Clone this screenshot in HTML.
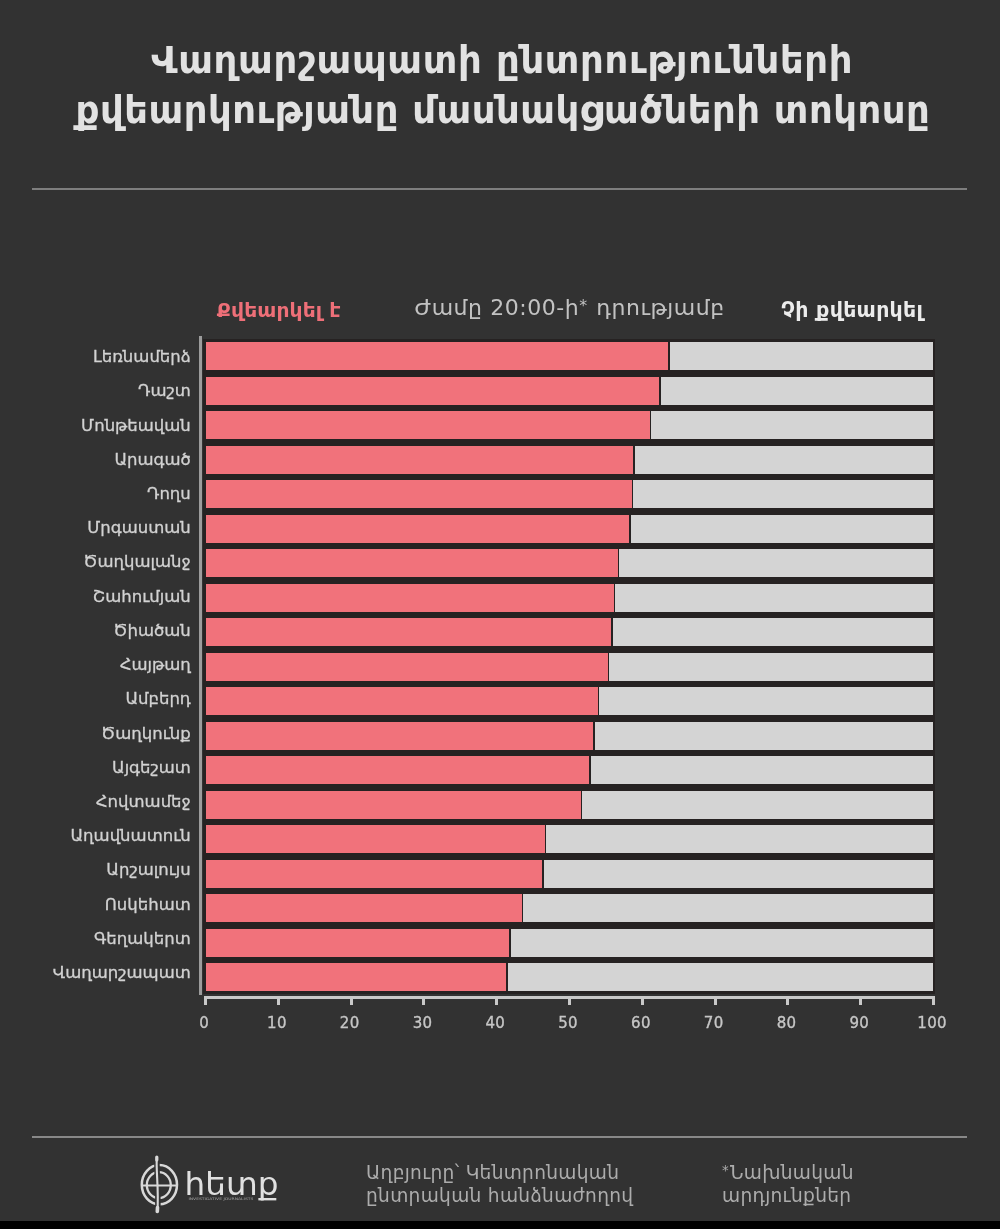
<!DOCTYPE html>
<html lang="hy"><head><meta charset="utf-8"><title>Վաղարշապատ</title>
<style>
html,body{margin:0;padding:0;background:#323232}
body{width:1000px;height:1229px;background:#323232;position:relative;overflow:hidden;font-family:"DejaVu Sans","Liberation Sans",sans-serif;color:#ddd}
.abs{position:absolute}
h1{margin:0}
h1 span{position:absolute;white-space:nowrap;font-weight:bold;font-size:37px;line-height:50px;color:#e2e2e2;letter-spacing:0px}
.hr{position:absolute;left:32px;width:935px;height:2px;background:#7e7e7e}
.lab{position:absolute;left:0;width:190.8px;text-align:right;font-size:16.5px;line-height:34px;color:#d2d2d2;white-space:nowrap;-webkit-text-stroke:0.3px #d2d2d2}
.bar{position:absolute;height:27.8px}
.g{background:#d4d4d4}
.p{background:#f1727b}
.chartbg{position:absolute;left:203px;top:339px;width:731.5px;height:655px;background:#262222}
.vax{position:absolute;left:198.8px;top:336px;width:3.6px;height:659px;background:#9c9c9c}
.hax{position:absolute;left:204px;top:996px;width:731px;height:3px;background:#c9c9c9}
.tick{position:absolute;top:996px;width:3px;height:9px;background:#c9c9c9}
.tl{position:absolute;top:1012px;width:60px;text-align:center;font-size:15px;letter-spacing:0.3px;line-height:22px;color:#c6c6c6;-webkit-text-stroke:0.35px #c6c6c6}
.hd{position:absolute;top:296px;line-height:28px;white-space:nowrap}
.ft{position:absolute;font-size:18.6px;line-height:23px;color:#acacac;white-space:nowrap;letter-spacing:0.3px}
.ast{font-size:72%;position:relative;top:-0.28em;margin-right:1px;display:inline-block;line-height:1}
.btm{position:absolute;left:-10px;top:1220.5px;width:1020px;height:20px;background:#000}
#wrap{position:absolute;left:0;top:0;width:1000px;height:1229px;filter:blur(0.45px)}
</style></head><body><div id="wrap">
<h1><span style="letter-spacing:0.68px;left:151px;top:35.5px">Վաղարշապատի ընտրությունների</span><span style="letter-spacing:0.5px;left:75.5px;top:85.5px">քվեարկությանը մասնակցածների տոկոսը</span></h1>
<div class="hr" style="top:188px"></div>
<div class="hd" style="left:216.8px;top:295.5px;font-weight:bold;font-size:20.3px;letter-spacing:0.1px;color:#ee6f78">Քվեարկել է</div>
<div class="hd" style="left:414.5px;top:294px;font-size:22px;letter-spacing:0.55px;color:#c2c2c2">Ժամը 20:00-ի<span class="ast">*</span> դրությամբ</div>
<div class="hd" style="left:781px;top:295.5px;font-weight:bold;font-size:20.5px;letter-spacing:0.3px;color:#ececec">Չի քվեարկել</div>
<div class="chartbg"></div>
<div class="vax"></div>
<div class="lab" style="top:340.04px">Լեռնամերձ</div><div class="bar g" style="top:342.4px;left:669.8px;width:263.6px"></div><div class="bar p" style="top:342.4px;left:205.8px;width:462.4px"></div><div class="lab" style="top:374.27px">Դաշտ</div><div class="bar g" style="top:376.9px;left:661.0px;width:272.4px"></div><div class="bar p" style="top:376.9px;left:205.8px;width:453.6px"></div><div class="lab" style="top:408.50px">Մոնթեավան</div><div class="bar g" style="top:411.4px;left:651.3px;width:282.1px"></div><div class="bar p" style="top:411.4px;left:205.8px;width:443.9px"></div><div class="lab" style="top:442.73px">Արագած</div><div class="bar g" style="top:445.9px;left:634.8px;width:298.6px"></div><div class="bar p" style="top:445.9px;left:205.8px;width:427.4px"></div><div class="lab" style="top:476.96px">Դողս</div><div class="bar g" style="top:480.4px;left:633.4px;width:300.0px"></div><div class="bar p" style="top:480.4px;left:205.8px;width:426.0px"></div><div class="lab" style="top:511.19px">Մրգաստան</div><div class="bar g" style="top:514.9px;left:631.1px;width:302.3px"></div><div class="bar p" style="top:514.9px;left:205.8px;width:423.7px"></div><div class="lab" style="top:545.42px">Ծաղկալանջ</div><div class="bar g" style="top:549.4px;left:619.4px;width:314.0px"></div><div class="bar p" style="top:549.4px;left:205.8px;width:412.0px"></div><div class="lab" style="top:579.65px">Շահումյան</div><div class="bar g" style="top:583.9px;left:615.4px;width:318.0px"></div><div class="bar p" style="top:583.9px;left:205.8px;width:408.0px"></div><div class="lab" style="top:613.88px">Ծիածան</div><div class="bar g" style="top:618.4px;left:612.9px;width:320.5px"></div><div class="bar p" style="top:618.4px;left:205.8px;width:405.5px"></div><div class="lab" style="top:648.11px">Հայթաղ</div><div class="bar g" style="top:652.9px;left:609.2px;width:324.2px"></div><div class="bar p" style="top:652.9px;left:205.8px;width:401.8px"></div><div class="lab" style="top:682.34px">Ամբերդ</div><div class="bar g" style="top:687.4px;left:599.2px;width:334.2px"></div><div class="bar p" style="top:687.4px;left:205.8px;width:391.8px"></div><div class="lab" style="top:716.57px">Ծաղկունք</div><div class="bar g" style="top:721.9px;left:594.8px;width:338.6px"></div><div class="bar p" style="top:721.9px;left:205.8px;width:387.4px"></div><div class="lab" style="top:750.80px">Այգեշատ</div><div class="bar g" style="top:756.4px;left:590.6px;width:342.8px"></div><div class="bar p" style="top:756.4px;left:205.8px;width:383.2px"></div><div class="lab" style="top:785.03px">Հովտամեջ</div><div class="bar g" style="top:790.9px;left:582.3px;width:351.1px"></div><div class="bar p" style="top:790.9px;left:205.8px;width:374.9px"></div><div class="lab" style="top:819.26px">Աղավնատուն</div><div class="bar g" style="top:825.4px;left:546.4px;width:387.0px"></div><div class="bar p" style="top:825.4px;left:205.8px;width:339.0px"></div><div class="lab" style="top:853.49px">Արշալույս</div><div class="bar g" style="top:859.9px;left:543.5px;width:389.9px"></div><div class="bar p" style="top:859.9px;left:205.8px;width:336.1px"></div><div class="lab" style="top:887.72px">Ոսկեհատ</div><div class="bar g" style="top:894.4px;left:523.2px;width:410.2px"></div><div class="bar p" style="top:894.4px;left:205.8px;width:315.8px"></div><div class="lab" style="top:921.95px">Գեղակերտ</div><div class="bar g" style="top:928.9px;left:510.7px;width:422.7px"></div><div class="bar p" style="top:928.9px;left:205.8px;width:303.3px"></div><div class="lab" style="top:956.18px">Վաղարշապատ</div><div class="bar g" style="top:963.4px;left:507.6px;width:425.8px"></div><div class="bar p" style="top:963.4px;left:205.8px;width:300.2px"></div>
<div class="hax"></div>
<div class="tick" style="left:203.9px"></div><div class="tl" style="left:174.1px">0</div><div class="tick" style="left:276.7px"></div><div class="tl" style="left:246.9px">10</div><div class="tick" style="left:349.5px"></div><div class="tl" style="left:319.7px">20</div><div class="tick" style="left:422.3px"></div><div class="tl" style="left:392.5px">30</div><div class="tick" style="left:495.1px"></div><div class="tl" style="left:465.3px">40</div><div class="tick" style="left:567.9px"></div><div class="tl" style="left:538.1px">50</div><div class="tick" style="left:640.7px"></div><div class="tl" style="left:610.9px">60</div><div class="tick" style="left:713.5px"></div><div class="tl" style="left:683.7px">70</div><div class="tick" style="left:786.3px"></div><div class="tl" style="left:756.5px">80</div><div class="tick" style="left:859.1px"></div><div class="tl" style="left:829.3px">90</div><div class="tick" style="left:931.9px"></div><div class="tl" style="left:902.1px">100</div>
<div class="hr" style="top:1136px;background:#888"></div>
<svg class="abs" style="left:130px;top:1145px" width="170" height="76" viewBox="130 1145 170 76">
<g fill="none" stroke="#d8d8d8" stroke-linecap="round">
<ellipse cx="159.4" cy="1184.7" rx="17.6" ry="19.6" stroke-width="2.5"/>
<ellipse cx="158.8" cy="1185.1" rx="12" ry="13" stroke-width="2.3"/>
<path d="M157 1160C156.6 1172 158.4 1192 157.8 1209" stroke="#323232" stroke-width="5.5" stroke-linecap="butt"/>
<path d="M142 1185.5H176.4" stroke-width="1.8"/>
<path d="M156.8 1157C155.8 1170 159 1190 157.4 1211.6" stroke-width="2.1"/>
<path d="M156.8 1157V1160" stroke-width="3.2"/>
<path d="M157.5 1207.5L157.3 1211.5" stroke-width="3.6"/>
</g>
<text x="184.6" y="1195.4" font-family="'DejaVu Sans',sans-serif" font-size="32" fill="#e0e0e0" textLength="94" lengthAdjust="spacingAndGlyphs">հետք</text>
<rect x="256" y="1200.7" width="24" height="7" fill="#323232"/>
<text x="188.4" y="1200.4" font-family="'DejaVu Sans',sans-serif" font-size="3.4" fill="#a4a4a4" textLength="65" lengthAdjust="spacingAndGlyphs">INVESTIGATIVE JOURNALISTS</text>
</svg>
<div class="ft" style="left:366px;top:1160.5px">Աղբյուրը՝ Կենտրոնական<br>ընտրական հանձնաժողով</div>
<div class="ft" style="left:722px;top:1160.5px"><span class="ast">*</span>Նախնական<br>արդյունքներ</div>
<div class="btm"></div>
</div></body></html>
